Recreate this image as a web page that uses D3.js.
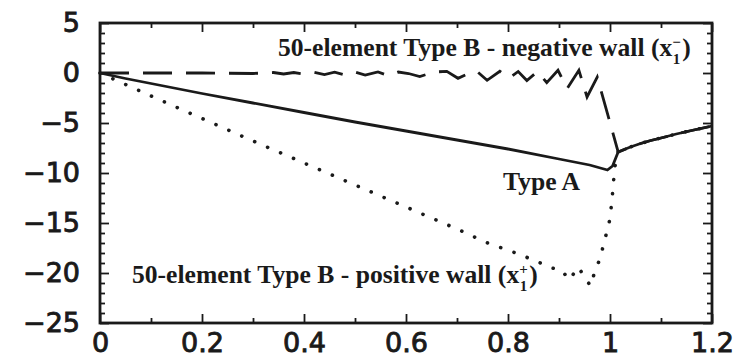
<!DOCTYPE html>
<html>
<head>
<meta charset="utf-8">
<script src="https://cdn.jsdelivr.net/npm/d3@7"></script>
<style>
  html, body { margin: 0; padding: 0; background: #fff; }
  svg { display: block; }
</style>
</head>
<body>
<svg id="chart" width="744" height="360"></svg>
<script>
// ---- data ----
const xTicks = [0, 0.2, 0.4, 0.6, 0.8, 1, 1.2];
const xTickLabels = ["0", "0.2", "0.4", "0.6", "0.8", "1", "1.2"];
const xMinorTicks = [0.1, 0.3, 0.5, 0.7, 0.9, 1.1];
const yTicks = [5, 0, -5, -10, -15, -20, -25];
const yTickLabels = ["5", "0", "\u22125", "\u221210", "\u221215", "\u221220", "\u221225"];
const yMinorTicks = [4,3,2,1,-1,-2,-3,-4,-6,-7,-8,-9,-11,-12,-13,-14,-16,-17,-18,-19,-21,-22,-23,-24];

// Type A (solid)
const typeAX = [0, 0.05, 0.1, 0.2, 0.3, 0.4, 0.5, 0.6, 0.7, 0.8, 0.9, 0.96, 0.995, 1.005, 1.016, 1.04, 1.06, 1.08, 1.1, 1.13, 1.16, 1.2];
const typeAY = [0, -0.55, -1.05, -2.05, -3.0, -3.95, -4.9, -5.8, -6.7, -7.6, -8.6, -9.2, -9.7, -9.3, -7.9, -7.4, -7.05, -6.75, -6.5, -6.1, -5.75, -5.3];

// 50-element Type B, negative wall (dashed)
const negX = [0, 0.1, 0.2, 0.3, 0.34, 0.36, 0.38, 0.4, 0.42, 0.44, 0.46, 0.48, 0.5, 0.52, 0.545, 0.565, 0.585, 0.605, 0.627, 0.655, 0.68, 0.702, 0.72, 0.739, 0.759, 0.784, 0.803, 0.82, 0.837, 0.858, 0.876, 0.898, 0.916, 0.939, 0.955, 0.975, 1.016, 1.04, 1.06, 1.08, 1.1, 1.13, 1.16, 1.2];
const negY = [0, 0, 0, -0.05, 0.05, -0.1, 0.05, -0.1, 0.08, -0.15, 0.08, -0.2, 0.1, -0.2, 0.1, -0.25, 0.1, -0.05, -0.35, 0.1, 0.17, -0.53, -0.1, 0.17, -0.73, 0.17, -0.5, 0.15, -0.75, 0.15, -0.96, 0.27, -1.56, 0.27, -2.4, -0.4, -7.9, -7.4, -7.05, -6.75, -6.5, -6.1, -5.75, -5.3];

// 50-element Type B, positive wall (dotted)
const posX = [0, 0.05, 0.1, 0.2, 0.3, 0.4, 0.5, 0.6, 0.7, 0.76, 0.81, 0.85, 0.886, 0.905, 0.92, 0.938, 0.951, 0.962, 0.971, 0.982, 0.988, 0.997, 1.001, 1.006, 1.009, 1.016, 1.04, 1.06, 1.08, 1.1, 1.13, 1.16, 1.2];
const posY = [0, -1.15, -2.3, -4.55, -6.8, -9.0, -11.2, -13.4, -15.6, -17.0, -17.9, -18.7, -19.5, -19.7, -20.7, -19.4, -20.5, -21.3, -19.7, -18.4, -16.9, -15.4, -14.1, -11.5, -9.5, -7.9, -7.4, -7.05, -6.75, -6.5, -6.1, -5.75, -5.3];

// ---- chart ----
const svg = d3.select("#chart");
const mLeft = 100, mRight = 712, mTop = 23, mBottom = 323;
const x = d3.scaleLinear().domain([0, 1.2]).range([mLeft, mRight]);
const y = d3.scaleLinear().domain([-25, 5]).range([mBottom, mTop]);

const tickFont = "'DejaVu Sans', sans-serif";
const ink = "#1a1a1a";

function styleAxis(g) {
  g.select(".domain").remove();
  g.selectAll(".tick line").attr("stroke", ink).attr("stroke-width", 1.8);
  g.selectAll(".tick text")
    .attr("fill", ink)
    .attr("font-family", tickFont)
    .attr("font-size", 27)
    .attr("stroke", ink)
    .attr("stroke-width", 0.9);
}

// bottom
svg.append("g").attr("transform", `translate(0,${mBottom})`)
  .call(d3.axisBottom(x).tickValues(xTicks).tickSize(-9).tickPadding(10)
    .tickFormat((d, i) => xTickLabels[i]))
  .call(styleAxis);
svg.append("g").attr("transform", `translate(0,${mBottom})`)
  .call(d3.axisBottom(x).tickValues(xMinorTicks).tickSize(-5).tickFormat(""))
  .call(styleAxis);
// top
svg.append("g").attr("transform", `translate(0,${mTop})`)
  .call(d3.axisTop(x).tickValues(xTicks).tickSize(-9).tickFormat(""))
  .call(styleAxis);
svg.append("g").attr("transform", `translate(0,${mTop})`)
  .call(d3.axisTop(x).tickValues(xMinorTicks).tickSize(-5).tickFormat(""))
  .call(styleAxis);
// left
svg.append("g").attr("transform", `translate(${mLeft},0)`)
  .call(d3.axisLeft(y).tickValues(yTicks).tickSize(-9).tickPadding(20)
    .tickFormat((d, i) => yTickLabels[i]))
  .call(styleAxis);
svg.append("g").attr("transform", `translate(${mLeft},0)`)
  .call(d3.axisLeft(y).tickValues(yMinorTicks).tickSize(-5).tickFormat(""))
  .call(styleAxis);
// right
svg.append("g").attr("transform", `translate(${mRight},0)`)
  .call(d3.axisRight(y).tickValues(yTicks).tickSize(-9).tickFormat(""))
  .call(styleAxis);
svg.append("g").attr("transform", `translate(${mRight},0)`)
  .call(d3.axisRight(y).tickValues(yMinorTicks).tickSize(-5).tickFormat(""))
  .call(styleAxis);

// frame
svg.append("rect")
  .attr("x", mLeft).attr("y", mTop)
  .attr("width", mRight - mLeft).attr("height", mBottom - mTop)
  .attr("fill", "none").attr("stroke", ink).attr("stroke-width", 2.8);

const line = d3.line().x(d => x(d[0])).y(d => y(d[1]));
const zip = (xs, ys) => xs.map((v, i) => [v, ys[i]]);

svg.append("path").datum(zip(posX, posY))
  .attr("d", line).attr("fill", "none").attr("stroke", ink)
  .attr("stroke-width", 3.6).attr("stroke-linecap", "round")
  .attr("stroke-dasharray", "0.1,14");

svg.append("path").datum(zip(negX, negY))
  .attr("d", line).attr("fill", "none").attr("stroke", ink)
  .attr("stroke-width", 2.8)
  .attr("stroke-dasharray", "29,14");

svg.append("path").datum(zip(typeAX, typeAY))
  .attr("d", line).attr("fill", "none").attr("stroke", ink)
  .attr("stroke-width", 2.8).attr("stroke-linejoin", "round");

// annotations
const annFont = "'Liberation Serif', 'Times New Roman', serif";
function label(xp, yp, main, sup, withSub) {
  const t = svg.append("text")
    .attr("x", xp).attr("y", yp)
    .attr("font-family", annFont).attr("font-weight", "bold")
    .attr("font-size", 25.6).attr("fill", ink);
  t.append("tspan").text(main);
  if (withSub) {
    t.append("tspan").attr("font-size", 15).attr("dy", -9).text(sup);
    t.append("tspan").attr("font-size", 15).attr("dx", -8).attr("dy", 17).text("1");
    t.append("tspan").attr("dx", 2).attr("dy", -8).text(")");
  }
  return t;
}
label(278, 56, "50-element Type B - negative wall (x", "\u2212", true);
label(503, 190, "Type A", "", false);
label(132, 283, "50-element Type B - positive wall (x", "+", true);
</script>
</body>
</html>
